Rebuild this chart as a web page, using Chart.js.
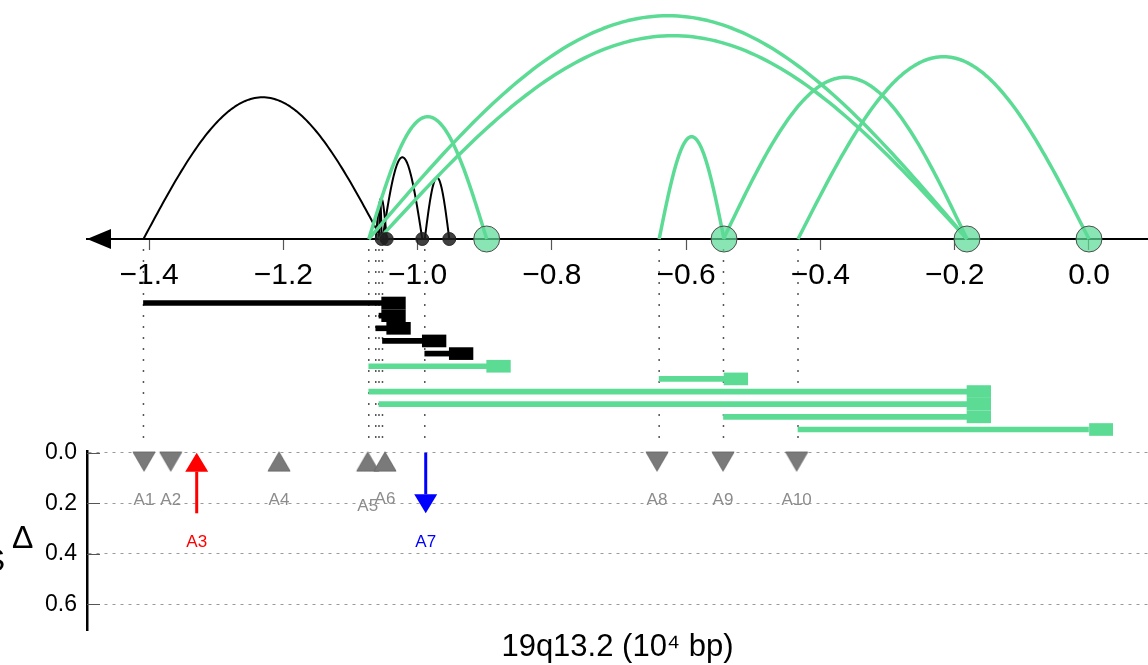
<!DOCTYPE html>
<html><head><meta charset="utf-8">
<script src="https://cdn.jsdelivr.net/npm/chart.js@4.4.1/dist/chart.umd.min.js"></script>
<style>html,body{margin:0;padding:0;background:#fff;overflow:hidden}</style>
</head><body>
<canvas id="c" width="1148" height="665"></canvas>
<script>
// ---------------- data ----------------
// interactions: start anchor -> end node (genomic position, 10^4 bp), arc height, group
const rowStart  = [-1.4083, -1.0575, -1.0623, -1.0523, -0.9893, -1.0727, -0.6402, -1.0727, -1.0575, -0.5444, -0.4334];
const rowEnd    = [-1.0535, -1.0535, -1.0460, -0.9930, -0.9528, -0.8971, -0.5436, -0.1817, -0.1817, -0.1817, 0.0];
const rowHeight = [141.7, 36, 40.7, 81.7, 61.3, 122.3, 102.3, 223.3, 203.3, 161.7, 182.3];
const rowGroup  = ['black','black','black','black','black','green','green','green','green','green','green'];
// nodes on the axis
const nodeX     = [-1.0535, -1.0460, -0.9930, -0.9528, -0.8971, -0.5436, -0.1817, 0.0];
const nodeGroup = ['black','black','black','black','green','green','green','green'];
// annotated sites in the delta panel
const markerLabel = ['A1','A2','A3','A4','A5','A6','A7','A8','A9','A10'];
const markerX     = [-1.4075, -1.3677, -1.3290, -1.2064, -1.0743, -1.0486, -0.9879, -0.6434, -0.5451, -0.4354];
const markerDelta = [0.035, 0.035, 0.24, 0.035, 0.035, 0.035, 0.24, 0.035, 0.035, 0.035];
const markerKind  = ['down','down','gain','up','up','up','loss','down','down','down'];
// tick labels
const xTicks     = [-1.4, -1.2, -1.0, -0.8, -0.6, -0.4, -0.2, 0.0];
const deltaTicks = [0.0, 0.2, 0.4, 0.6];

// ---------------- styles ----------------
const FONT = '"Liberation Sans", Arial, Helvetica, sans-serif';
const STYLE = {
  black: { line: '#000000', arcWidth: 2, node: 'rgba(30,30,30,0.85)', nodeBorder: 'rgba(30,30,30,0.9)', nodeR: 6.5 },
  green: { line: '#5cdb95', arcWidth: 3.5, node: 'rgba(92,219,149,0.72)', nodeBorder: '#4d4d4d', nodeR: 13 }
};
const KIND = {
  down: { color: '#8c8c8c' }, up: { color: '#8c8c8c' },
  gain: { color: '#ff0000' }, loss: { color: '#0000ff' }
};
const LABEL_NUDGE = { A5: 6, A6: -1 };
const BOX_W = 0.0353;

function makeTri(dir) {
  const c = document.createElement('canvas');
  c.width = 26; c.height = 24;
  const g = c.getContext('2d');
  g.fillStyle = '#7a7a7a'; g.strokeStyle = '#6a6a6a'; g.lineWidth = 1;
  g.beginPath();
  if (dir === 'down') { g.moveTo(2, 2.5); g.lineTo(24, 2.5); g.lineTo(13, 21.5); }
  else { g.moveTo(13, 2.5); g.lineTo(24, 21.5); g.lineTo(2, 21.5); }
  g.closePath(); g.fill(); g.stroke();
  return c;
}
const TRI = { down: makeTri('down'), up: makeTri('up') };

const triIdx = markerKind.map((k, i) => i).filter(i => markerKind[i] === 'down' || markerKind[i] === 'up');

const decor = {
  id: 'decor',
  beforeDatasetsDraw(chart) {
    const { ctx, scales: { x, yArc, yDelta } } = chart;
    const base = yArc.getPixelForValue(0);
    // dotted guide lines at unique anchors
    const starts = [...new Set(rowStart)];
    ctx.save();
    ctx.strokeStyle = '#555'; ctx.lineWidth = 1.5; ctx.setLineDash([2, 9]);
    const y0 = base + 10, y1 = yDelta.getPixelForValue(0) - 8;
    starts.forEach(v => {
      const xx = x.getPixelForValue(v);
      ctx.beginPath(); ctx.moveTo(xx, y0); ctx.lineTo(xx, y1); ctx.stroke();
    });
    ctx.restore();
    // arcs
    rowStart.forEach((s, i) => {
      const xa = x.getPixelForValue(s), xb = x.getPixelForValue(rowEnd[i]);
      const h = base - yArc.getPixelForValue(rowHeight[i]);
      const st = STYLE[rowGroup[i]];
      ctx.save();
      ctx.strokeStyle = st.line; ctx.lineWidth = st.arcWidth; ctx.lineJoin = 'round';
      ctx.beginPath();
      const n = 120;
      for (let k = 0; k <= n; k++) {
        const t = k / n;
        const xx = xa + (xb - xa) * t, yy = base - h * Math.sin(Math.PI * t);
        if (k) ctx.lineTo(xx, yy); else ctx.moveTo(xx, yy);
      }
      ctx.stroke();
      ctx.restore();
    });
    // inward tick marks on delta axis
    ctx.save();
    ctx.strokeStyle = '#555'; ctx.lineWidth = 1;
    deltaTicks.forEach(v => {
      const yy = Math.round(yDelta.getPixelForValue(v)) + 0.5;
      ctx.beginPath(); ctx.moveTo(yDelta.right, yy); ctx.lineTo(yDelta.right + 13, yy); ctx.stroke();
    });
    ctx.restore();
  },
  afterDatasetsDraw(chart) {
    const { ctx, scales: { x, yArc, yDelta } } = chart;
    const base = yArc.getPixelForValue(0);
    // arrow head at the left end of the axis
    ctx.save();
    ctx.fillStyle = '#000';
    ctx.beginPath();
    ctx.moveTo(x.left, base); ctx.lineTo(x.left + 24, base - 10); ctx.lineTo(x.left + 24, base + 10);
    ctx.closePath(); ctx.fill();
    ctx.restore();
    // gain / loss arrows + labels
    const d0 = yDelta.getPixelForValue(0);
    markerX.forEach((v, i) => {
      const kind = markerKind[i];
      const xx = x.getPixelForValue(v);
      const yv = yDelta.getPixelForValue(markerDelta[i]);
      const col = KIND[kind].color;
      ctx.save();
      let labelY;
      if (kind === 'gain' || kind === 'loss') {
        const tip = kind === 'gain' ? d0 : yv;
        const tail = kind === 'gain' ? yv : d0;
        const dir = kind === 'gain' ? 1 : -1;
        const hl = 19, hw = 11.5;
        ctx.strokeStyle = col; ctx.fillStyle = col; ctx.lineWidth = 3;
        ctx.beginPath(); ctx.moveTo(xx, tail); ctx.lineTo(xx, tip + dir * hl); ctx.stroke();
        ctx.beginPath(); ctx.moveTo(xx, tip); ctx.lineTo(xx - hw, tip + dir * hl); ctx.lineTo(xx + hw, tip + dir * hl);
        ctx.closePath(); ctx.fill();
        labelY = Math.max(tip, tail) + 29;
      } else {
        labelY = yv + 38.5;
      }
      labelY += (LABEL_NUDGE[markerLabel[i]] || 0);
      ctx.fillStyle = col;
      ctx.font = '17px ' + FONT;
      ctx.textAlign = 'center'; ctx.textBaseline = 'middle';
      ctx.fillText(markerLabel[i], xx, labelY);
      ctx.restore();
    });
    // y-axis symbol
    ctx.save();
    ctx.fillStyle = '#000';
    ctx.font = '32px ' + FONT;
    ctx.textBaseline = 'alphabetic';
    ctx.textAlign = 'left';
    ctx.fillText('\u0394', 12, 548);
    ctx.textAlign = 'right';
    ctx.fillText('S', 5, 571);
    ctx.restore();
  }
};

const fmtX = v => (v < -1e-9 ? '\u2212' : '') + Math.abs(v).toFixed(1);

new Chart(document.getElementById('c'), {
  type: 'scatter',
  data: {
    datasets: [
      { // nodes
        type: 'scatter', xAxisID: 'x', yAxisID: 'yArc', clip: false,
        data: nodeX.map(v => ({ x: v, y: 0 })),
        pointRadius: nodeGroup.map(g => STYLE[g].nodeR),
        pointBackgroundColor: nodeGroup.map(g => STYLE[g].node),
        pointBorderColor: nodeGroup.map(g => STYLE[g].nodeBorder),
        pointBorderWidth: 1, pointHoverRadius: nodeGroup.map(g => STYLE[g].nodeR)
      },
      { // site markers
        type: 'scatter', xAxisID: 'x', yAxisID: 'yDelta', clip: false,
        data: triIdx.map(i => ({ x: markerX[i], y: markerDelta[i] })),
        pointStyle: triIdx.map(i => TRI[markerKind[i]]),
        pointRadius: 11
      },
      { // node boxes
        type: 'bar', indexAxis: 'y', xAxisID: 'x', yAxisID: 'ySeg', clip: false, grouped: false,
        data: rowEnd.map((e, i) => ({ x: [e, e + BOX_W], y: i + 1 })),
        backgroundColor: rowGroup.map(g => STYLE[g].line),
        barThickness: 12, maxBarThickness: 12, borderWidth: 0
      },
      { // interaction spans
        type: 'bar', indexAxis: 'y', xAxisID: 'x', yAxisID: 'ySeg', clip: false, grouped: false,
        data: rowStart.map((s, i) => ({ x: [s, rowEnd[i]], y: i + 1 })),
        backgroundColor: rowGroup.map(g => STYLE[g].line),
        barThickness: 5, maxBarThickness: 5, borderWidth: 0
      }
    ]
  },
  options: {
    responsive: false, animation: false, events: [],
    layout: { autoPadding: false, padding: { top: 24, left: 0, right: 0, bottom: 0 } },
    plugins: {
      legend: { display: false }, tooltip: { enabled: false },
      title: {
        display: true, position: 'bottom', fullSize: false,
        text: '19q13.2 (10\u2074 bp)', color: '#000',
        font: { family: FONT, size: 31, weight: 'normal', lineHeight: 35 / 31 },
        padding: { top: 0, bottom: 0 }
      }
    },
    scales: {
      x: {
        type: 'linear', axis: 'x', min: -1.4924, max: 0.0879,
        position: { yArc: 0 },
        afterBuildTicks: s => { s.ticks = xTicks.map(v => ({ value: v })); },
        afterFit: s => { s.paddingLeft = 0; s.paddingRight = 0; s.paddingTop = 0; s.paddingBottom = 0; },
        ticks: { callback: fmtX, font: { family: FONT, size: 30, lineHeight: 1.2 }, color: '#000', padding: 8.5, maxRotation: 0, autoSkip: false },
        grid: { display: true, drawOnChartArea: false, drawTicks: true, tickLength: 10, tickColor: '#555', tickWidth: 1.2 },
        border: { display: true, color: '#000', width: 2 }
      },
      yDelta: {
        type: 'linear', axis: 'y', position: 'left', stack: 'v', stackWeight: 179,
        reverse: true, min: -0.0067, max: 0.7021,
        afterBuildTicks: s => { s.ticks = deltaTicks.map(v => ({ value: v })); },
        afterFit: s => { s.width = 87; s.paddingTop = 0; s.paddingBottom = 0; s.paddingLeft = 0; s.paddingRight = 0; },
        ticks: { callback: v => v.toFixed(1), font: { family: FONT, size: 23, lineHeight: 1.2 }, color: '#000', padding: 10 },
        grid: { drawTicks: false, color: '#9a9a9a', lineWidth: 1 },
        border: { display: true, color: '#000', width: 2.5, dash: [3, 5] }
      },
      ySeg: {
        type: 'linear', axis: 'y', position: 'left', stack: 'v', stackWeight: 212,
        reverse: true, min: -4.06, max: 12.70, display: false, offset: false
      },
      yArc: {
        type: 'linear', axis: 'y', position: 'left', stack: 'v', stackWeight: 215,
        min: 0, max: 215, display: false
      }
    }
  },
  plugins: [decor]
});
</script>
</body></html>
